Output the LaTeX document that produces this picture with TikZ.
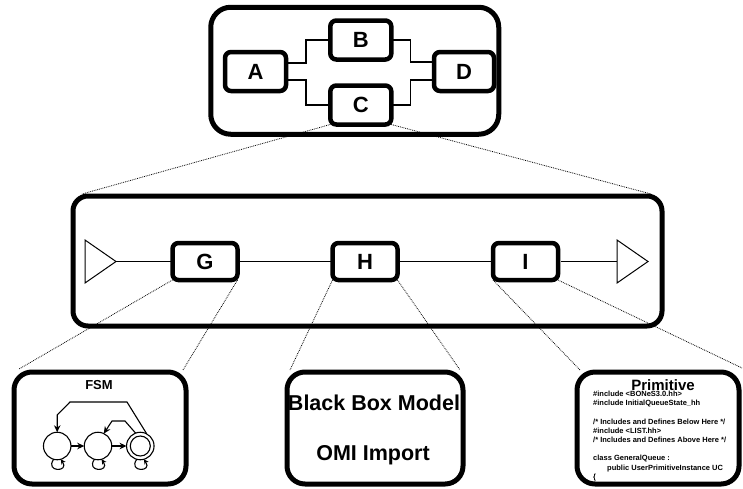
\documentclass[tikz,border=0pt]{standalone}
\usepackage{fontspec}
\setmainfont{Liberation Sans}
\usetikzlibrary{arrows.meta,calc}
\begin{document}
\begin{tikzpicture}[x=1pt,y=-1pt,
  outerbox/.style={draw,line width=5pt,inner sep=0pt,outer sep=0pt},
  blockbox/.style={draw,line width=4.5pt,rounded corners=6pt,inner sep=0pt,outer sep=0pt,
    minimum width=61pt,minimum height=39pt,font=\fontsize{22}{24}\selectfont\bfseries},
  wire/.style={line width=1.1pt},
  zoomline/.style={densely dotted,line width=0.8pt},
  port/.style={line width=1pt,line join=miter},
  state/.style={draw,circle,line width=1.1pt,minimum size=27.5pt,inner sep=0pt,outer sep=0pt},
  trans/.style={line width=1.1pt,-{Stealth[length=7pt,width=6.5pt]}},
  selfloop/.style={line width=1.1pt,-{Stealth[length=5pt,width=5pt]}},
  title/.style={anchor=base,inner sep=0pt,font=\fontsize{#1}{#1}\selectfont\bfseries},
  code/.style={anchor=base west,inner sep=0pt,font=\fontsize{7.5}{9}\selectfont\bfseries}
]
\useasboundingbox (0,0) rectangle (743,488);

% ---------- top level: A, B, C, D ----------
\node[outerbox,rounded corners=20pt,minimum width=288pt,minimum height=127pt] (top) at (354.75,70.75) {};
\node[blockbox] (A) at (255.5,71.5) {A};
\node[blockbox] (B) at (360.8,40) {B};
\node[blockbox] (C) at (360.8,105) {C};
\node[blockbox,minimum width=60pt] (D) at (464,71.5) {D};

\draw[wire] ([yshift=8.5pt]A.east) -- ++(20,0) |- (B.west);
\draw[wire] ([yshift=-8.5pt]A.east) -- ++(20,0) |- (C.west);
\draw[wire] (B.east) -- ++(19,0) |- ([yshift=9.5pt]D.west);
\draw[wire] (C.east) -- ++(19,0) |- ([yshift=-8.5pt]D.west);

% ---------- middle level: G, H, I ----------
\node[outerbox,rounded corners=15pt,minimum width=589pt,minimum height=130pt] (M) at (367.5,261) {};
\node[blockbox,minimum width=65pt,minimum height=37pt] (G) at (205,261.5) {G};
\node[blockbox,minimum width=65pt,minimum height=37pt] (H) at (365,261.5) {H};
\node[blockbox,minimum width=65pt,minimum height=37pt] (I) at (525.5,261.5) {I};

\coordinate (inTip) at (116,261.5);
\coordinate (outBase) at (617,261.5);
\draw[port] (85,240) -- (85,283) -- (inTip) -- cycle;
\draw[port] (outBase) -- (617,240) -- (648,261.5) -- (617,283) -- cycle;

\draw[wire] (inTip) -- (G.west);
\draw[wire] (G.east) -- (H.west);
\draw[wire] (H.east) -- (I.west);
\draw[wire] ([xshift=3pt]I.east) -- (outBase);

\draw[zoomline] (C.south west) -- ([xshift=9pt,yshift=2pt]M.north west);
\draw[zoomline] (C.south east) -- ([xshift=-11pt,yshift=2pt]M.north east);

% ---------- bottom level ----------
\node[outerbox,rounded corners=18pt,minimum width=172pt,minimum height=112pt] (F) at (100,428) {};
\node[outerbox,rounded corners=18pt,minimum width=176pt,minimum height=112pt] (K) at (375,428) {};
\node[outerbox,rounded corners=18pt,minimum width=162pt,minimum height=112pt] (P) at (658,428) {};

\draw[zoomline] (G.south west) -- ([xshift=5pt,yshift=3pt]F.north west);
\draw[zoomline] (G.south east) -- ([xshift=-3pt,yshift=2pt]F.north east);
\draw[zoomline] (H.south west) -- ([xshift=3pt,yshift=2pt]K.north west);
\draw[zoomline] (H.south east) -- ([xshift=-3pt,yshift=2pt]K.north east);
\draw[zoomline] (I.south west) -- ([xshift=3pt,yshift=2pt]P.north west);
\draw[zoomline] (I.south east) -- ([xshift=3pt,yshift=4pt]P.north east);

% FSM
\node[title=13] (fsmT) at (99,389) {FSM};
\node[state] (S1) at (57.2,446) {};
\node[state] (S2) at (98,446) {};
\node[state] (S3) at (140.3,446) {};
\node[state,minimum size=20pt] (S3in) at (S3) {};
\draw[trans] (S1) -- (S2);
\draw[trans] (S2) -- (S3);
\draw[trans] (S3.62) -- (127,402) -- (70,402) -- (57.2,415) -- (S1.north);
\draw[trans] (S3.110) -- (125,421) -- (112,421) -- (S2.65);
\foreach \s in {S1,S2,S3}
  \draw[selfloop] (\s.-105) .. controls +(-125:16pt) and +(-55:16pt) .. (\s.-75);

% Black box model
\node[title=21.5] (bbm) at (374,410) {Black Box Model};
\node[title=21.5] (omi) at (373,460) {OMI Import};

% Primitive
\node[title=15] (primT) at (663,390) {Primitive};
\node[code] (c1) at (593,396.5) {\#include <BONeS3.0.hh>};
\node[code] (c2) at (593,405.7) {\#include InitialQueueState\_hh};
\node[code] (c3) at (593,424.1) {/* Includes and Defines Below Here */};
\node[code] (c4) at (593,433.3) {\#include <LIST.hh>};
\node[code] (c5) at (593,442.5) {/* Includes and Defines Above Here */};
\node[code] (c6) at (593,460.9) {class GeneralQueue :};
\node[code] (c7) at (607,470.1) {public UserPrimitiveInstance UC};
\node[code] (c8) at (593,479.3) {\{};
\end{tikzpicture}
\end{document}
